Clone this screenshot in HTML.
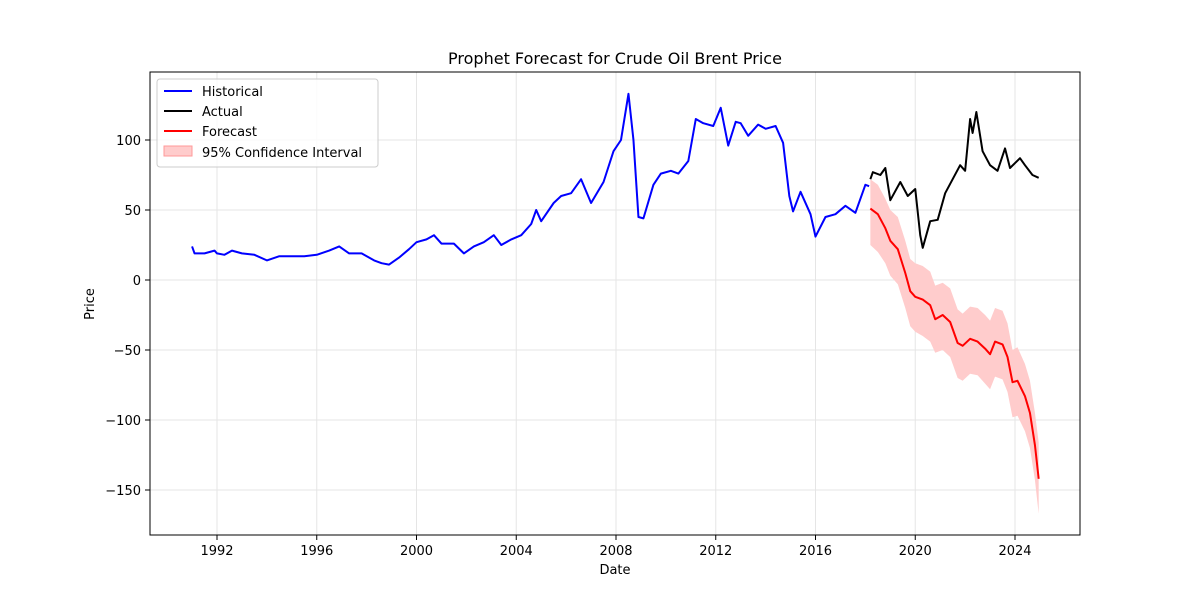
<!DOCTYPE html>
<html><head><meta charset="utf-8">
<style>
body{margin:0;background:#fff;}
svg text{font-family:"DejaVu Sans","Liberation Sans",sans-serif;fill:#000;}
</style></head>
<body>
<svg id="chart" width="1200" height="600" viewBox="0 0 1200 600" xmlns="http://www.w3.org/2000/svg">
<rect width="1200" height="600" fill="#fff"/>
<text x="615" y="64" font-size="16" text-anchor="middle">Prophet Forecast for Crude Oil Brent Price</text>
<g id="grid"></g>
<g id="ci"></g>
<g id="lines"></g>
<rect x="150" y="72" width="930" height="463" fill="none" stroke="#000" stroke-width="1"/>
<g id="ticks"></g>
<text x="615" y="574" font-size="13" text-anchor="middle">Date</text>
<text x="94" y="304" font-size="13" text-anchor="middle" transform="rotate(-90 94 304)">Price</text>
<g>
<rect x="157" y="79" width="221" height="88" rx="3" fill="#fff" fill-opacity="0.8" stroke="#ccc"/>
<line x1="164" y1="91" x2="192" y2="91" stroke="#0000ff" stroke-width="2"/>
<text x="202" y="96" font-size="13">Historical</text>
<line x1="164" y1="111" x2="192" y2="111" stroke="#000" stroke-width="2"/>
<text x="202" y="116" font-size="13">Actual</text>
<line x1="164" y1="131" x2="192" y2="131" stroke="#ff0000" stroke-width="2"/>
<text x="202" y="136" font-size="13">Forecast</text>
<rect x="164" y="146" width="28" height="10" fill="#ffcccc" stroke="#ff9999"/>
<text x="202" y="157" font-size="13">95% Confidence Interval</text>
</g>
</svg>
<script>
const histDates=[1991.0,1991.1,1991.5,1991.9,1992.0,1992.3,1992.6,1993,1993.5,1994,1994.5,1995,1995.5,1996,1996.5,1996.9,1997.3,1997.8,1998.3,1998.6,1998.9,1999.3,1999.7,2000,2000.4,2000.7,2001,2001.5,2001.9,2002.3,2002.7,2003.1,2003.4,2003.8,2004.2,2004.6,2004.8,2005,2005.5,2005.8,2006.2,2006.6,2007,2007.5,2007.9,2008.2,2008.5,2008.7,2008.9,2009.1,2009.5,2009.8,2010.2,2010.5,2010.9,2011.2,2011.5,2011.9,2012.2,2012.5,2012.8,2013,2013.3,2013.7,2014,2014.4,2014.7,2014.95,2015.1,2015.4,2015.8,2016.0,2016.4,2016.8,2017.2,2017.6,2018.0,2018.15];
const histValues=[24,19,19,21,19,18,21,19,18,14,17,17,17,18,21,24,19,19,14,12,11,16,22,27,29,32,26,26,19,24,27,32,25,29,32,40,50,42,55,60,62,72,55,70,92,100,133,100,45,44,68,76,78,76,85,115,112,110,123,96,113,112,103,111,108,110,98,60,49,63,47,31,45,47,53,48,68,67];
const actDates=[2018.2,2018.3,2018.6,2018.8,2019,2019.4,2019.7,2020,2020.2,2020.3,2020.6,2020.9,2021.2,2021.5,2021.8,2022,2022.2,2022.3,2022.45,2022.7,2023,2023.3,2023.6,2023.8,2024.2,2024.4,2024.7,2024.95];
const actValues=[72,77,75,80,57,70,60,65,32,23,42,43,62,72,82,78,115,105,120,92,82,78,94,80,87,82,75,73];
const fcDates=[2018.2,2018.5,2018.8,2019,2019.3,2019.6,2019.8,2020,2020.3,2020.6,2020.8,2021.1,2021.4,2021.7,2021.9,2022.2,2022.5,2022.8,2023,2023.2,2023.5,2023.7,2023.9,2024.1,2024.4,2024.6,2024.8,2024.95];
const fcValues=[51,47,37,28,22,5,-8,-12,-14,-18,-28,-25,-30,-45,-47,-42,-44,-49,-53,-44,-46,-55,-73,-72,-83,-95,-118,-142];
const fcLower=[25,20,12,3,-3,-20,-33,-37,-40,-44,-52,-50,-55,-70,-72,-67,-68,-74,-78,-69,-71,-80,-98,-97,-108,-120,-143,-167];
const fcUpper=[72,68,58,50,45,28,15,12,10,6,-4,-2,-6,-21,-24,-19,-20,-25,-29,-20,-22,-31,-50,-48,-60,-72,-95,-116];
const xTicks=[1992,1996,2000,2004,2008,2012,2016,2020,2024];
const yTicks=[100,50,0,-50,-100,-150];

const NS="http://www.w3.org/2000/svg";
const xs=y=>217+(y-1992)*(1015-217)/32;
const ys=v=>280-v*1.4;
function mk(tag,attrs,parent){const e=document.createElementNS(NS,tag);for(const k in attrs)e.setAttribute(k,attrs[k]);document.getElementById(parent).appendChild(e);return e;}
xTicks.forEach(t=>{
  const g=mk('line',{x1:xs(t),x2:xs(t),y1:72,y2:535,stroke:'#e5e5e5','stroke-width':1},'grid');
  
  
  mk('line',{x1:xs(t),x2:xs(t),y1:535,y2:540,stroke:'#000'},'ticks');
  const l=mk('text',{x:xs(t),y:555,'font-size':13,'text-anchor':'middle'},'ticks');
  l.textContent=t;
  
  
});
yTicks.forEach(t=>{
  const g=mk('line',{x1:150,x2:1080,y1:ys(t),y2:ys(t),stroke:'#e5e5e5','stroke-width':1},'grid');
  
  
  mk('line',{x1:145,x2:150,y1:ys(t),y2:ys(t),stroke:'#000'},'ticks');
  const l=mk('text',{x:141,y:ys(t)+5,'font-size':13,'text-anchor':'end'},'ticks');
  l.textContent=t<0?'\u2212'+(-t):t;
  
  
});
let up=fcDates.map((d,i)=>xs(d)+','+ys(fcUpper[i]));
let lo=fcDates.map((d,i)=>xs(d)+','+ys(fcLower[i])).reverse();
const band=mk('polygon',{points:up.concat(lo).join(' '),fill:'#ffcccc',stroke:'none'},'ci');


function line(d,v,c,name){
  const p=mk('polyline',{points:d.map((x,i)=>xs(x)+','+ys(v[i])).join(' '),fill:'none',stroke:c,'stroke-width':2,'stroke-linejoin':'round'},'lines');
  
  
}
line(histDates,histValues,'#0000ff','historical-line');
line(actDates,actValues,'#000000','actual-line');
line(fcDates,fcValues,'#ff0000','forecast-line');
</script>
</body></html>
